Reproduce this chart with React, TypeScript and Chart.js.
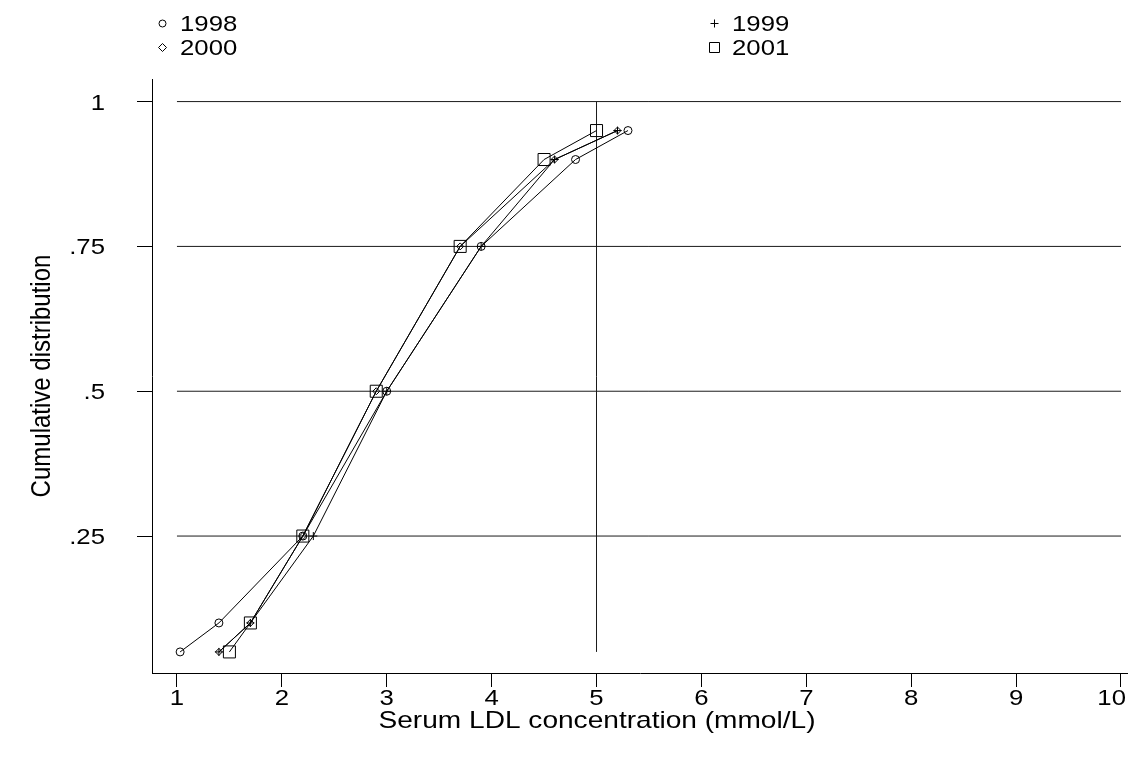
import React, { useEffect, useRef } from 'react';
import { Chart, registerables } from 'chart.js';

Chart.register(...registerables);

// ---- data ----
const probs = [0.05, 0.1, 0.25, 0.5, 0.75, 0.9, 0.95];
const ldl1998 = [1.03, 1.4, 2.2, 3.0, 3.9, 4.8, 5.3];
const ldl1999 = [1.4, 1.7, 2.3, 3.0, 3.9, 4.6, 5.2];
const ldl2000 = [1.4, 1.7, 2.2, 2.9, 3.7, 4.6, 5.2];
const ldl2001 = [1.5, 1.7, 2.2, 2.9, 3.7, 4.5, 5.0];
const seriesLabels = ['1998', '1999', '2000', '2001'];
const seriesValues = [ldl1998, ldl1999, ldl2000, ldl2001];
const xTicks = [1, 2, 3, 4, 5, 6, 7, 8, 9, 10];
const yTicks = [0.25, 0.5, 0.75, 1];
const yTickLabels = ['.25', '.5', '.75', '1'];
const refLevels = [0.25, 0.5, 0.75, 1];
const refSpanX = [1, 10];
const refX = 5;
const refSpanY = [0.05, 1];
const xTitle = 'Serum LDL concentration (mmol/L)';
const yTitle = 'Cumulative distribution';

// ---- styles ----
const FONT = '"Liberation Sans", Arial, Helvetica, sans-serif';
const SX = 1.17; // horizontal stretch of the lettering
const markerStyles = ['circle', 'cross', 'rectRot', 'rect'];
const markerRadii = [4, 4, 3.5, 8.5];

const legendCols = [162, 714];
const legendRows = [23, 47];
const legendPos = [
  [0, 0],
  [1, 0],
  [0, 1],
  [1, 1],
];

function drawMarker(ctx: CanvasRenderingContext2D, style: string, x: number, y: number, r: number) {
  ctx.beginPath();
  if (style === 'circle') {
    ctx.arc(x, y, r, 0, Math.PI * 2);
  } else if (style === 'cross') {
    ctx.moveTo(x - r, y);
    ctx.lineTo(x + r, y);
    ctx.moveTo(x, y - r);
    ctx.lineTo(x, y + r);
  } else if (style === 'rectRot') {
    ctx.moveTo(x, y - r);
    ctx.lineTo(x + r, y);
    ctx.lineTo(x, y + r);
    ctx.lineTo(x - r, y);
    ctx.closePath();
  } else {
    ctx.rect(x - r, y - r, 2 * r, 2 * r);
  }
  ctx.stroke();
}

function text(ctx: CanvasRenderingContext2D, s: string, x: number, y: number, align: CanvasTextAlign, size: number) {
  ctx.save();
  ctx.font = `${size}px ${FONT}`;
  ctx.textAlign = align;
  ctx.textBaseline = 'alphabetic';
  ctx.translate(x, y);
  ctx.scale(SX, 1);
  ctx.fillText(s, 0, 0);
  ctx.restore();
}

const annotPlugin = {
  id: 'annot',
  afterDraw(chart: any) {
    const ctx: CanvasRenderingContext2D = chart.ctx;
    const xs = chart.scales.x;
    const ys = chart.scales.y;
    const area = chart.chartArea;
    const W = chart.width;
    ctx.save();
    ctx.fillStyle = '#000';
    ctx.strokeStyle = '#000';
    ctx.lineWidth = 1;
    // tick labels
    const tickSize = 22;
    xTicks.forEach((v) => {
      const s = String(v);
      ctx.font = `${tickSize}px ${FONT}`;
      const half = (ctx.measureText(s).width * SX) / 2;
      let cx = xs.getPixelForValue(v);
      if (cx + half > W - 2) cx = W - 2 - half;
      text(ctx, s, cx, 705, 'center', tickSize);
    });
    yTicks.forEach((v, i) => {
      text(ctx, yTickLabels[i], 105, ys.getPixelForValue(v) + 8, 'right', tickSize);
    });
    // x title
    text(ctx, xTitle, 597, 728, 'center', 24);
    // y title (rotated)
    ctx.save();
    ctx.font = `24px ${FONT}`;
    ctx.textAlign = 'center';
    ctx.textBaseline = 'alphabetic';
    ctx.translate(50, (area.top + area.bottom) / 2);
    ctx.rotate(-Math.PI / 2);
    ctx.scale(1, SX);
    ctx.fillText(yTitle, 0, 0);
    ctx.restore();
    // legend
    const legR = [3.5, 4, 4, 5];
    seriesLabels.forEach((lab, i) => {
      const [c, r] = legendPos[i];
      const x = legendCols[c];
      const y = legendRows[r];
      drawMarker(ctx, markerStyles[i], x + 0.5, y + 0.5, legR[i]);
      text(ctx, lab, x + 18, y + 8, 'left', 22);
    });
    ctx.restore();
  },
};

export default function App() {
  const ref = useRef<HTMLCanvasElement>(null);
  useEffect(() => {
    if (!ref.current) return;
    const refDatasets: any[] = refLevels.map((lv) => ({
      label: 'ref',
      data: refSpanX.map((x) => ({ x, y: lv })),
      showLine: true,
      borderColor: '#1a1a1a',
      borderWidth: 1,
      pointRadius: 0,
      order: 10,
    }));
    refDatasets.push({
      label: 'ref',
      data: refSpanY.map((y) => ({ x: refX, y })),
      showLine: true,
      borderColor: '#1a1a1a',
      borderWidth: 1,
      pointRadius: 0,
      order: 10,
    });
    const seriesDatasets = seriesValues.map((vals, i) => ({
      label: seriesLabels[i],
      data: vals.map((x, k) => ({ x, y: probs[k] })),
      showLine: true,
      borderColor: '#000',
      borderWidth: 1,
      pointStyle: markerStyles[i],
      pointRadius: markerRadii[i],
      pointBorderColor: '#000',
      pointBorderWidth: 1,
      pointBackgroundColor: 'rgba(0,0,0,0)',
      order: 1,
    }));
    const chart = new Chart(ref.current, {
      type: 'scatter',
      data: { datasets: [...seriesDatasets, ...refDatasets] },
      plugins: [annotPlugin],
      options: {
        animation: false,
        responsive: false,
        events: [],
        layout: { autoPadding: false, padding: { top: 79, left: 0, right: 0, bottom: 0 } },
        plugins: { legend: { display: false }, tooltip: { enabled: false }, title: { display: false } },
        scales: {
          x: {
            type: 'linear',
            min: 0.762,
            max: 10.067,
            afterBuildTicks: (s: any) => {
              s.ticks = xTicks.map((v) => ({ value: v }));
            },
            afterFit: (s: any) => {
              s.height = 87;
              s.paddingLeft = 0;
              s.paddingRight = 0;
            },
            grid: { drawOnChartArea: false, drawTicks: true, tickLength: 14, color: '#000', lineWidth: 1 },
            border: { display: true, color: '#000', width: 1 },
            ticks: { display: false, autoSkip: false },
          },
          y: {
            type: 'linear',
            min: 0.0136,
            max: 1.039,
            afterBuildTicks: (s: any) => {
              s.ticks = yTicks.map((v) => ({ value: v }));
            },
            afterFit: (s: any) => {
              s.width = 152;
              s.paddingTop = 0;
              s.paddingBottom = 0;
            },
            grid: { drawOnChartArea: false, drawTicks: true, tickLength: 15, color: '#000', lineWidth: 1 },
            border: { display: true, color: '#000', width: 1 },
            ticks: { display: false, autoSkip: false },
          },
        },
      },
    } as any);
    return () => chart.destroy();
  }, []);
  return (
    <div style={{ position: 'absolute', left: 0, top: 0, width: 1128, height: 760, background: '#fff' }}>
      <canvas ref={ref} width={1128} height={760} style={{ display: 'block' }} />
    </div>
  );
}
